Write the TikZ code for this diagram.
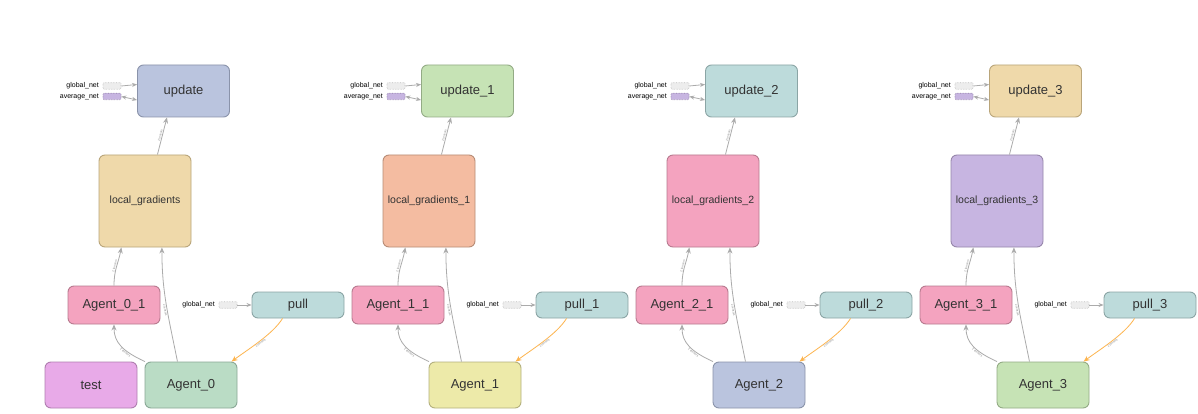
\documentclass[tikz,border=0pt]{standalone}
\usepackage{fontspec}
\setmainfont{Liberation Sans}
\usetikzlibrary{arrows.meta}

% fills and matching outlines
\definecolor{cBlue}{HTML}{BAC4DE}   \definecolor{bBlue}{HTML}{8A93AA}
\definecolor{cSand}{HTML}{EFD9AA}   \definecolor{bSand}{HTML}{B9A57A}
\definecolor{cPink}{HTML}{F4A3BF}   \definecolor{bPink}{HTML}{B87A8F}
\definecolor{cTeal}{HTML}{BDDBDB}   \definecolor{bTeal}{HTML}{8BA5A5}
\definecolor{cMauve}{HTML}{E8AAE8}  \definecolor{bMauve}{HTML}{B07EB0}
\definecolor{cMint}{HTML}{BADCC5}   \definecolor{bMint}{HTML}{8AA896}
\definecolor{cGreen}{HTML}{C6E3B5}  \definecolor{bGreen}{HTML}{93AB85}
\definecolor{cSalmon}{HTML}{F4BCA1} \definecolor{bSalmon}{HTML}{B88C76}
\definecolor{cLemon}{HTML}{EDEAA9}  \definecolor{bLemon}{HTML}{B4B07D}
\definecolor{cLilac}{HTML}{C7B5E1}  \definecolor{bLilac}{HTML}{9686AA}
\definecolor{edgegray}{HTML}{ABABAB}
\definecolor{refedge}{HTML}{FDB44E}
\definecolor{inktext}{HTML}{333333}

\tikzset{
  op/.style={draw, rounded corners=6pt, line width=0.9pt, minimum width=92pt,
    inner sep=0pt, text=inktext, font=\fontsize{13}{13}\selectfont},
  op fill/.style={fill=c#1, draw=b#1},
  constlabel/.style={anchor=east, inner sep=0pt, text=black,
    font=\fontsize{7}{7}\selectfont},
  constbox/.style={draw=black!25, densely dotted, fill=black!7, line width=0.6pt,
    minimum width=18pt, minimum height=6.5pt, inner sep=0pt, rounded corners=1pt},
  avgbox/.style={constbox, fill=cLilac, draw=bLilac},
  flow/.style={draw=edgegray, line width=0.8pt, -{Stealth[length=6pt,width=5pt]}},
  refflow/.style={flow, draw=refedge},
  ctrl/.style={draw=edgegray, line width=0.8pt, -{Stealth[length=5pt,width=4pt]}},
  elabel/.style={sloped, inner sep=0.5pt, text=black!45,
    font=\fontsize{3}{3}\selectfont},
}

% one worker block: #1 x offset, #2 index, #3 name suffix,
% #4 update colour, #5 local_gradients colour, #6 agent colour
\newcommand{\workerblock}[6]{%
  \begin{scope}[xshift=#1pt]
    \node[op, op fill=#4, minimum height=52pt] (upd#2) at (183.5,91) {update#3};
    \node[op, op fill=#5, minimum height=92pt, font=\fontsize{10.5}{10.5}\selectfont]
      (lg#2) at (145,201) {local\_gradients#3};
    \node[op, op fill=Pink, minimum height=38pt] (sub#2) at (114,305) {Agent\_#2\_1};
    \node[op, op fill=Teal, minimum height=26pt] (pull#2) at (298,305) {pull#3};
    \node[op, op fill=#6, minimum height=46pt] (ag#2) at (191,385) {Agent\_#2};
    % constant inputs of update
    \node[constbox] (ugn#2) at (112,86) {};
    \node[avgbox] (uav#2) at (112,96.5) {};
    \node[constlabel] (ugnl#2) at (99,86) {global\_net};
    \node[constlabel] (uavl#2) at (99,97) {average\_net};
    % constant input of pull
    \node[constbox] (pgn#2) at (228,305) {};
    \node[constlabel] (pgnl#2) at (215,305) {global\_net};
  \end{scope}
  \draw[ctrl] (ugn#2.east) -- (upd#2.172);
  \draw[ctrl, {Stealth[length=5pt,width=4pt]}-{Stealth[length=5pt,width=4pt]}]
    (uav#2.east) -- (upd#2.-169);
  \draw[ctrl] (pgn#2.east) -- (pull#2.west);
  \draw[flow] (lg#2.75) -- node[elabel, above] {2 tensors} (upd#2.-122);
  \draw[flow] (sub#2.north) .. controls +(0,-16) and +(-3,16) ..
    node[elabel, above] {2 tensors} (lg#2.-117);
  \draw[flow] (ag#2.120) .. controls +(-9,-45) and +(0,45) ..
    node[elabel, below, pos=0.45] {2 tensors} (lg#2.-70);
  \draw[flow] (ag#2.153) .. controls +(-22,-10) and +(0,18) ..
    node[elabel, below, pos=0.35] {2 tensors} (sub#2.south);
  \draw[refflow] (pull#2.-139) .. controls +(-10,16) and +(16,-12) ..
    node[elabel, below] {2 tensors} (ag#2.30);
}

\begin{document}
\begin{tikzpicture}[x=1pt, y=-1pt]
  \useasboundingbox (0,0) rectangle (1198,414);
  \fill[white] (0,0) rectangle (1198,414);

  \workerblock{0}{0}{}{Blue}{Sand}{Mint}
  \workerblock{284}{1}{\_1}{Green}{Salmon}{Lemon}
  \workerblock{568}{2}{\_2}{Teal}{Pink}{Blue}
  \workerblock{852}{3}{\_3}{Sand}{Lilac}{Green}

  \node[op, op fill=Mauve, minimum height=46pt] (test) at (91,385) {test};
\end{tikzpicture}
\end{document}
